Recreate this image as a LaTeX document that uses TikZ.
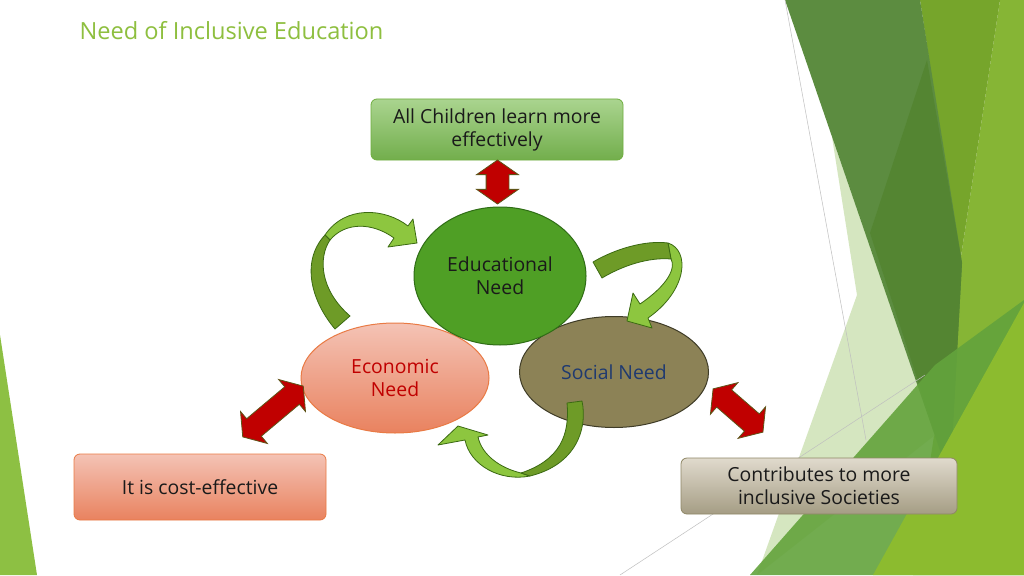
\documentclass[tikz,border=0pt]{standalone}
\usepackage{fontspec}
\setmainfont{Open Sans}
\usepackage{tikz}
\usetikzlibrary{shapes,arrows,backgrounds,positioning}

\definecolor{titlegreen}{HTML}{8EBF3F}
\definecolor{edugreen}{HTML}{4F9F25}
\definecolor{edudark}{HTML}{2F6D16}
\definecolor{socfill}{HTML}{8C8256}
\definecolor{socline}{HTML}{3F3C27}
\definecolor{socblue}{HTML}{1F3A70}
\definecolor{ecotop}{HTML}{F4C3B5}
\definecolor{ecobot}{HTML}{E9825F}
\definecolor{ecoline}{HTML}{E97A44}
\definecolor{ecored}{HTML}{C00000}
\definecolor{kidstop}{HTML}{AAD48F}
\definecolor{kidsbot}{HTML}{72AE4C}
\definecolor{kidsline}{HTML}{6FAE3F}
\definecolor{socboxtop}{HTML}{E0DACD}
\definecolor{socboxbot}{HTML}{A59D84}
\definecolor{socboxline}{HTML}{8F8766}
\definecolor{arrred}{HTML}{C00000}
\definecolor{arrline}{HTML}{5E5418}
\definecolor{curlight}{HTML}{8DC63F}
\definecolor{curdark}{HTML}{6E9B27}
\definecolor{curline}{HTML}{3B6A12}
\definecolor{bodytext}{HTML}{1A1A1A}

\begin{document}
\begin{tikzpicture}[x=1pt,y=-1pt,
  txt/.style={font=\fontsize{19.4}{23}\selectfont, align=center, text=bodytext},
  needshape/.style={ellipse, txt, line width=1pt, inner sep=0pt},
  box/.style={rectangle, rounded corners=6pt, txt, line width=0.8pt, inner sep=0pt},
  dbl/.style={double arrow, fill=arrred, draw=arrline, line width=0.8pt,
    inner xsep=0pt, inner ysep=11pt, double arrow head extend=9.5pt,
    double arrow tip angle=110},
  curvlight/.style={fill=curlight, draw=curline, line width=0.8pt, line join=round},
  curvdark/.style={fill=curdark, draw=curline, line width=0.8pt, line join=round},
  thinline/.style={draw=black!25, line width=0.5pt}]

\useasboundingbox (0,0) rectangle (1024,575);
\fill[white] (0,0) rectangle (1024,575);

% background facets
\fill[fill={rgb,255:red,141;green,192;blue,67}] (0,335) -- (37,575) -- (0,575) -- cycle;
\fill[fill={rgb,255:red,134;green,181;blue,53}] (1000,0) -- (1024,0) -- (1024,575) -- (913,575) -- (960,263) -- cycle;
\fill[fill={rgb,255:red,213;green,230;blue,192}] (832,137) -- (935,435) -- (757,575) -- (857,295) -- cycle;
\fill[fill={rgb,255:red,118;green,165;blue,43}] (920,0) -- (1000,0) -- (960,263) -- cycle;
\fill[fill={rgb,255:red,92;green,140;blue,64}] (785,0) -- (920,0) -- (962,263) -- (950,480) -- cycle;
\fill[fill={rgb,255:red,84;green,133;blue,50}] (927,60) -- (962,263) -- (950,480) -- (870,233) -- cycle;
\fill[fill={rgb,255:red,99;green,163;blue,60}, opacity=0.9] (750,575) -- (935,365) -- (1024,300) -- (1024,575) -- cycle;
\fill[fill={rgb,255:red,140;green,187;blue,47}] (873,575) -- (1024,303) -- (1024,575) -- cycle;
\draw[thinline] (785,0) -- (866,440);
\draw[thinline] (620,575) -- (925,375);

\node[anchor=west, text=titlegreen, font=\fontsize{23.6}{28}\selectfont] (title) at (76,31) {Need of Inclusive Education};

% the three needs
\node[needshape, fill=socfill, draw=socline, text=socblue,
  minimum width=189pt, minimum height=111pt] (soc) at (614,372) {Social Need};
\node[needshape, top color=ecotop, bottom color=ecobot, draw=ecoline, text=ecored,
  minimum width=188pt, minimum height=110pt] (eco) at (395,378) {Economic\\Need};
\node[needshape, fill=edugreen, draw=edudark,
  minimum width=172pt, minimum height=138pt] (edu) at (500,276) {Educational\\Need};

% outcomes
\node[box, top color=kidstop, bottom color=kidsbot, draw=kidsline,
  minimum width=252pt, minimum height=61pt] (kids) at (497,129.5) {All Children learn more\\effectively};
\node[box, top color=ecotop, bottom color=ecobot, draw=ecoline,
  minimum width=252pt, minimum height=66pt] (cost) at (200,487) {It is cost-effective};
\node[box, top color=socboxtop, bottom color=socboxbot, draw=socboxline,
  minimum width=276pt, minimum height=56pt] (society) at (819,486) {Contributes to more\\inclusive Societies};

\node[dbl, minimum height=44pt, rotate=90] (kidsarrow) at (497.5,182) {};
\node[dbl, minimum height=79pt, rotate=40] (costarrow) at (273,411.5) {};
\node[dbl, minimum height=66pt, rotate=-41] (socarrow) at (738,410.5) {};

% curved arrows: eco -> edu
\draw[curvlight] (325,235) .. controls (345,205) and (385,208) .. (408,226) -- (413,219) -- (417,243)
  -- (388,247) -- (394,238) .. controls (372,222) and (345,222) .. (330,240) -- cycle;
\draw[curvdark] (335,329) .. controls (312,302) and (300,262) .. (325,235) -- (330,240)
  .. controls (318,258) and (320,290) .. (350,316) -- cycle;
% edu -> soc
\draw[curvlight] (668,243) .. controls (690,250) and (688,290) .. (648,318) -- (652,328) -- (627,321)
  -- (633,293) -- (640,304) .. controls (668,285) and (676,268) .. (671,259) -- cycle;
\draw[curvdark] (593,262) .. controls (615,249) and (645,240) .. (668,243) -- (671,259)
  .. controls (648,257) and (622,266) .. (602,278) -- cycle;
% soc -> eco
\draw[curvlight] (530,476) .. controls (500,482) and (470,465) .. (465,440) -- (438,445) -- (458,426)
  -- (488,435) -- (478,437) .. controls (482,455) and (500,468) .. (521,473) -- cycle;
\draw[curvdark] (582,401) .. controls (588,430) and (575,465) .. (530,476) -- (521,473)
  .. controls (560,460) and (570,435) .. (567,403) -- cycle;
\end{tikzpicture}
\end{document}
